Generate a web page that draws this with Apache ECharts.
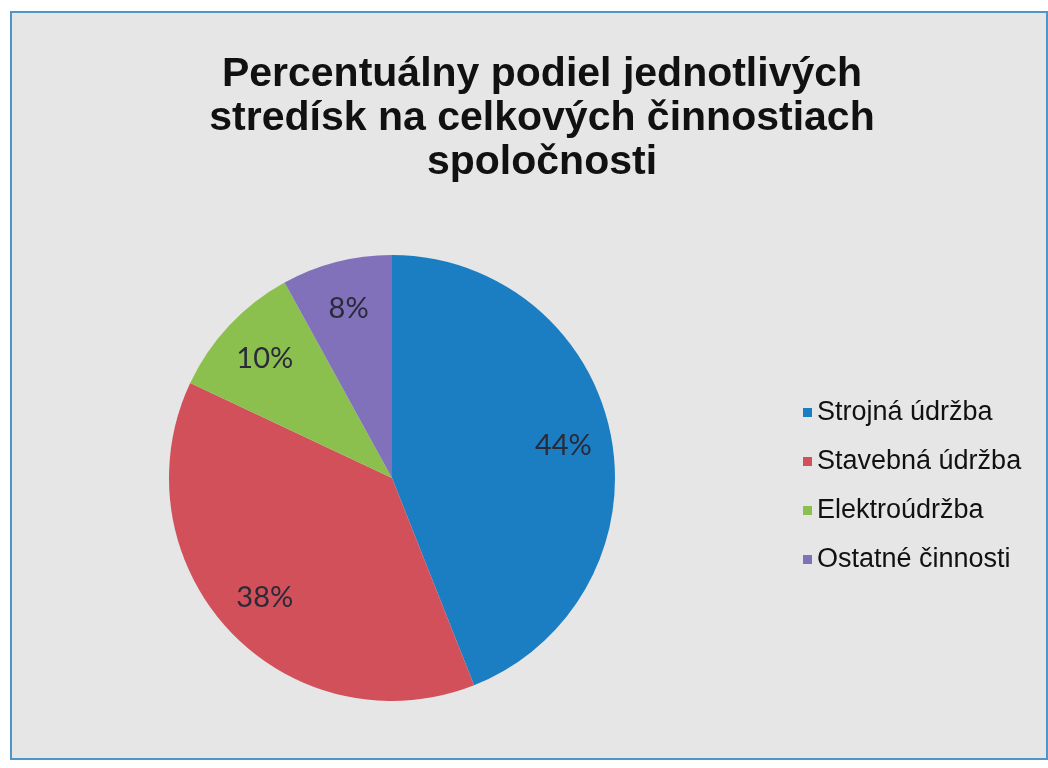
<!DOCTYPE html>
<html>
<head>
<meta charset="utf-8">
<script src="https://cdn.jsdelivr.net/npm/echarts@6/dist/echarts.min.js"></script>
<style>
html, body { margin: 0; padding: 0; background: #fff; }
#frame {
  position: absolute; left: 10px; top: 11px; width: 1034px; height: 745px;
  border: 2px solid #4f95c9; background: #e6e6e6;
}
#chart { width: 100%; height: 100%; }
</style>
</head>
<body>
<div id="frame"><div id="chart"></div></div>
<script>
const titleText = 'Percentuálny podiel jednotlivých\nstredísk na celkových činnostiach\nspoločnosti';
const categories = ['Strojná údržba', 'Stavebná údržba', 'Elektroúdržba', 'Ostatné činnosti'];
const shares = [44, 38, 10, 8];
const colors = ['#1b7dc2', '#d2505a', '#8cc04e', '#8171bb'];

const pieData = categories.map((name, i) => ({ name, value: shares[i] }));

const myChart = echarts.init(document.getElementById('chart'));
myChart.setOption({
  color: colors,
  title: {
    text: titleText,
    left: 525,
    textAlign: 'center',
    top: 35,
    textStyle: {
      fontFamily: 'Liberation Sans',
      fontWeight: 'bold',
      fontSize: 41,
      lineHeight: 44,
      color: '#111',
    },
  },
  legend: {
    orient: 'vertical',
    left: 786,
    top: 381,
    itemWidth: 9,
    itemHeight: 9,
    itemGap: 22,
    icon: 'rect',
    selectedMode: false,
    data: categories,
    textStyle: {
      fontFamily: 'Liberation Sans',
      fontSize: 27,
      color: '#111',
    },
  },
  series: [
    {
      type: 'pie',
      center: [380, 465],
      radius: [0, 223],
      startAngle: 90,
      clockwise: true,
      silent: true,
      label: { show: false },
      labelLine: { show: false },
      itemStyle: { borderWidth: 0 },
      data: pieData,
    },
    {
      // label ring so % labels sit at ~0.76 of the radius
      type: 'pie',
      center: [380, 465],
      radius: [120, 223],
      startAngle: 90,
      clockwise: true,
      silent: true,
      itemStyle: { color: 'rgba(0,0,0,0)', borderWidth: 0 },
      label: {
        show: true,
        position: 'inside',
        formatter: '{c}%',
        fontFamily: 'Lato',
        fontSize: 29,
        color: '#2a2a3a',
      },
      labelLine: { show: false },
      data: pieData,
    },
  ],
});
</script>
</body>
</html>
